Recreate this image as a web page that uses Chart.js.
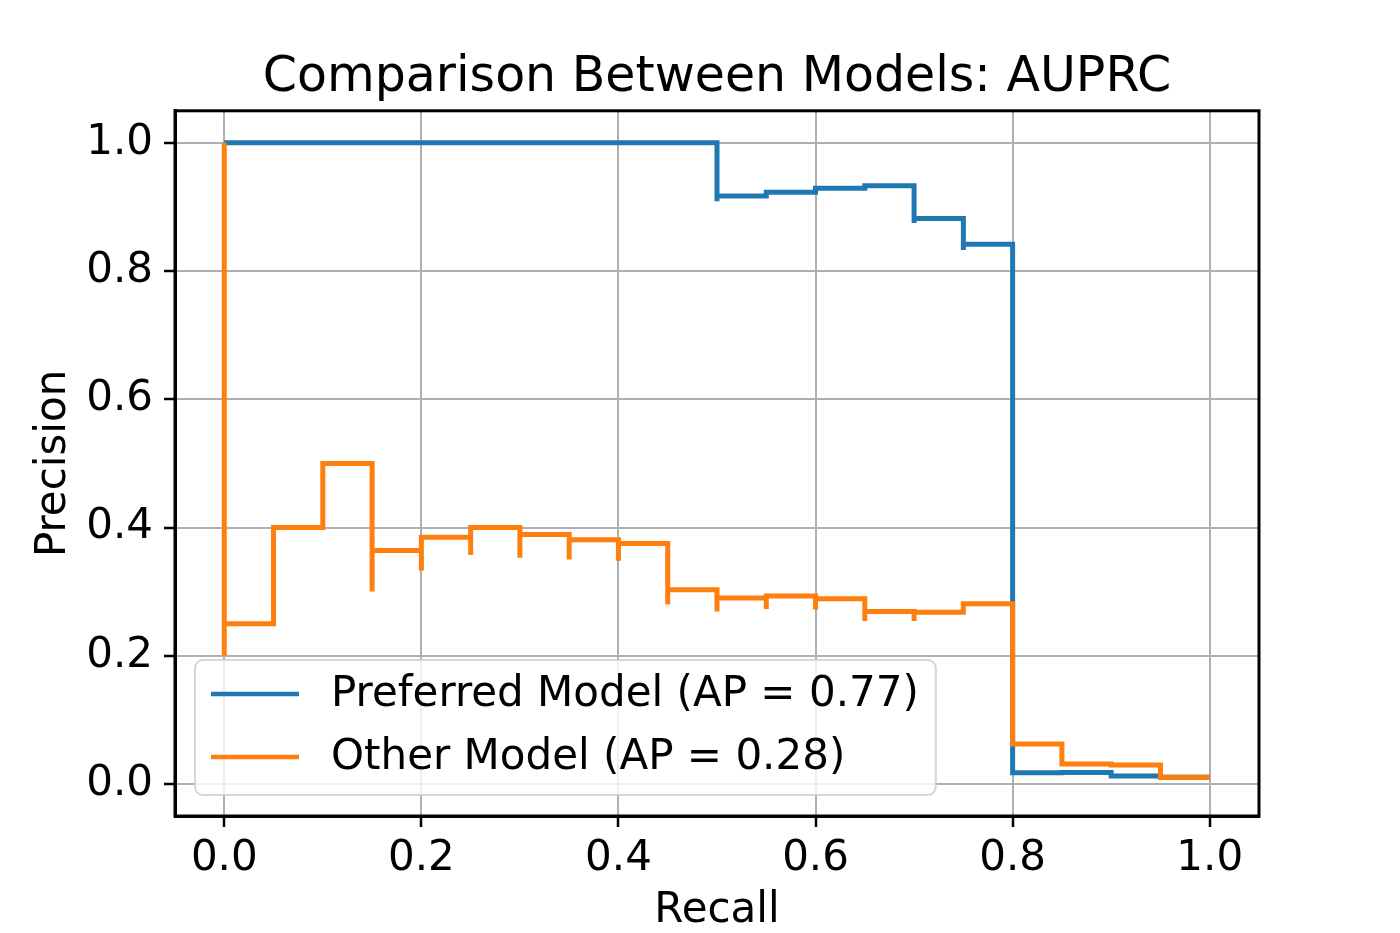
<!DOCTYPE html>
<html>
<head>
<meta charset="utf-8">
<title>Comparison Between Models: AUPRC</title>
<script src="https://cdn.jsdelivr.net/npm/chart.js@4.4.1/dist/chart.umd.min.js"></script>
<style>
  html, body { margin: 0; padding: 0; background: #fff; }
  .graphContainer { width: 1400px; height: 933px; }
</style>
</head>
<body>
<div class="graphContainer">
  <canvas id="graph"></canvas>
</div>
<script>
// precision-recall points, in the order precision_recall_curve gives them (recall decreasing)
const preferredRecall = [1.00, 0.95, 0.90, 0.85, 0.80, 0.75, 0.75, 0.70, 0.70, 0.65, 0.60, 0.55, 0.50, 0.50,
  0.45, 0.40, 0.35, 0.30, 0.25, 0.20, 0.15, 0.10, 0.05, 0.00];
const preferredPrecision = [0.0105, 0.0125, 0.0178, 0.0176, 0.842, 0.833, 0.882, 0.875, 0.933, 0.929, 0.923, 0.917, 0.909, 1.0,
  1.0, 1.0, 1.0, 1.0, 1.0, 1.0, 1.0, 1.0, 1.0, 1.0];

const otherRecall = [1.00, 0.95, 0.90, 0.85, 0.80, 0.75, 0.70, 0.70, 0.65, 0.65, 0.60, 0.60, 0.55, 0.55,
  0.50, 0.50, 0.45, 0.45, 0.40, 0.40, 0.35, 0.35, 0.30, 0.30, 0.25, 0.25, 0.20, 0.20, 0.15, 0.15,
  0.10, 0.05, 0.00, 0.00];
const otherPrecision = [0.0105, 0.0297, 0.0310, 0.0625, 0.281, 0.268, 0.254, 0.269, 0.254, 0.289, 0.272, 0.293, 0.273, 0.290,
  0.269, 0.303, 0.280, 0.375, 0.348, 0.381, 0.350, 0.389, 0.353, 0.400, 0.357, 0.385, 0.333, 0.364, 0.300, 0.500,
  0.400, 0.250, 0.200, 1.000];

const xTicks = [0.0, 0.2, 0.4, 0.6, 0.8, 1.0];
const yTicks = [0.0, 0.2, 0.4, 0.6, 0.8, 1.0];

const FONT = 'DejaVu Sans';

function toPoints(xs, ys) {
  return xs.map((x, i) => ({ x: x, y: ys[i] }));
}

// legend box drawn inside the plot, lower left (like matplotlib's)
const boxLegend = {
  id: 'boxLegend',
  afterDatasetsDraw(chart) {
    const { ctx, chartArea } = chart;
    const items = chart.data.datasets;
    ctx.save();
    ctx.font = '42px "' + FONT + '"';
    const textW = Math.max(...items.map(d => ctx.measureText(d.label).width));
    const w = 136 + textW + 17;
    const h = 135;
    const x = chartArea.left + 20;
    const y = chartArea.bottom - 21 - h;

    ctx.beginPath();
    ctx.roundRect(x, y, w, h, 8);
    ctx.fillStyle = 'rgba(255,255,255,0.8)';
    ctx.fill();
    ctx.lineWidth = 2;
    ctx.strokeStyle = 'rgba(204,204,204,0.8)';
    ctx.stroke();

    items.forEach((d, i) => {
      const cy = y + 34 + i * 63;
      ctx.beginPath();
      ctx.moveTo(x + 16, cy);
      ctx.lineTo(x + 104, cy);
      ctx.lineWidth = 4.5;
      ctx.strokeStyle = d.borderColor;
      ctx.stroke();
      ctx.fillStyle = '#000';
      ctx.textBaseline = 'middle';
      ctx.textAlign = 'left';
      ctx.fillText(d.label, x + 136, cy + 1);
    });
    ctx.restore();
  }
};

// black frame all round the axes
const frame = {
  id: 'frame',
  afterDraw(chart) {
    const { ctx, chartArea } = chart;
    ctx.save();
    ctx.lineWidth = 3;
    ctx.strokeStyle = '#000';
    ctx.strokeRect(chartArea.left, chartArea.top, chartArea.right - chartArea.left, chartArea.bottom - chartArea.top);
    ctx.restore();
  }
};

const grid = {
  color: '#b0b0b0',
  lineWidth: 2,
  tickColor: '#000',
  tickLength: 11,
  tickWidth: 2.5
};

new Chart(document.getElementById('graph'), {
  type: 'line',
  data: {
    datasets: [
      {
        label: 'Preferred Model (AP = 0.77)',
        data: toPoints(preferredRecall, preferredPrecision),
        borderColor: '#1f77b4',
        borderWidth: 5,
        pointRadius: 0,
        stepped: 'before',
        fill: false,
        order: 1
      },
      {
        label: 'Other Model (AP = 0.28)',
        data: toPoints(otherRecall, otherPrecision),
        borderColor: '#ff7f0e',
        borderWidth: 5,
        pointRadius: 0,
        stepped: 'before',
        fill: false,
        order: 0
      }
    ]
  },
  options: {
    responsive: true,
    maintainAspectRatio: false,
    animation: false,
    layout: { padding: { left: 0, right: 141, top: 0, bottom: 0 } },
    plugins: {
      legend: { display: false },
      tooltip: { enabled: false },
      title: {
        display: true,
        text: 'Comparison Between Models: AUPRC',
        fullSize: false,
        color: '#000',
        font: { family: FONT, size: 49, weight: 'normal' },
        padding: { top: 49, bottom: 3 }
      }
    },
    scales: {
      x: {
        type: 'linear',
        min: -0.05,
        max: 1.05,
        afterBuildTicks: s => { s.ticks = xTicks.map(v => ({ value: v })); },
        afterFit: s => { s.height = 117; },
        ticks: {
          color: '#000',
          font: { family: FONT, size: 42 },
          padding: 7,
          maxRotation: 0,
          autoSkip: false,
          callback: v => v.toFixed(1)
        },
        grid: grid,
        border: { display: true, color: '#000', width: 3 },
        title: {
          display: true,
          text: 'Recall',
          color: '#000',
          font: { family: FONT, size: 42 },
          padding: { top: 0, bottom: -3 }
        }
      },
      y: {
        type: 'linear',
        min: -0.05,
        max: 1.05,
        afterBuildTicks: s => { s.ticks = yTicks.map(v => ({ value: v })); },
        afterFit: s => { s.width = 175; },
        ticks: {
          color: '#000',
          font: { family: FONT, size: 42 },
          padding: 11,
          autoSkip: false,
          callback: v => v.toFixed(1)
        },
        grid: grid,
        border: { display: true, color: '#000', width: 3 },
        title: {
          display: true,
          text: 'Precision',
          color: '#000',
          font: { family: FONT, size: 42 },
          padding: { top: 29, bottom: 0 }
        }
      }
    }
  },
  plugins: [boxLegend, frame]
});
</script>
</body>
</html>
